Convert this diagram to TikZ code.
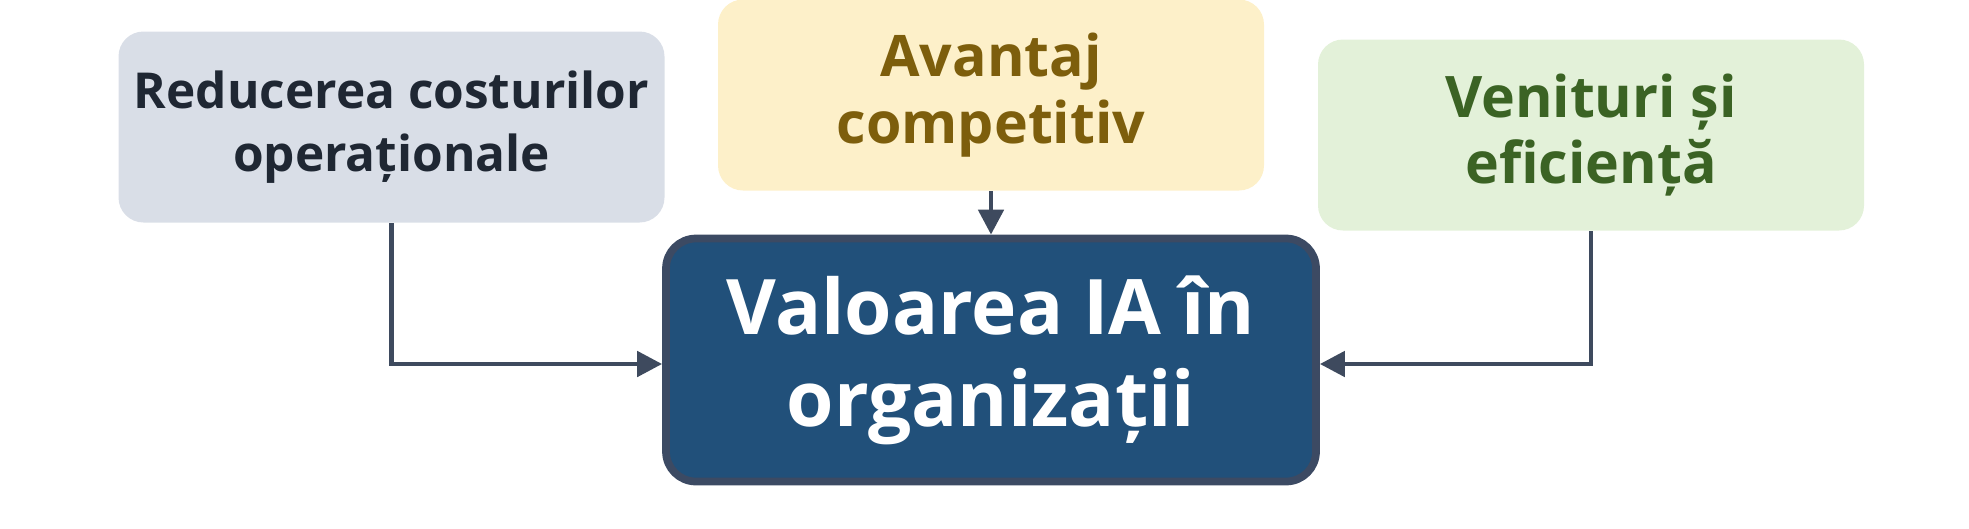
\documentclass[tikz,border=0pt]{standalone}
\usepackage{fontspec}
\setmainfont{Open Sans}
\usetikzlibrary{arrows.meta}
\definecolor{costfill}{HTML}{D9DEE7}
\definecolor{costtext}{HTML}{1F2733}
\definecolor{advfill}{HTML}{FDF0C9}
\definecolor{advtext}{HTML}{7D5E0C}
\definecolor{revfill}{HTML}{E3F1D9}
\definecolor{revtext}{HTML}{3B6324}
\definecolor{valfill}{HTML}{21507A}
\definecolor{valedge}{HTML}{3C4A63}
\definecolor{linkcol}{HTML}{3E4A5E}
\begin{document}
\begin{tikzpicture}[
    goal/.style={rounded corners=0.25cm, minimum width=5.46cm, minimum height=1.91cm,
      align=center, inner sep=0pt, font=\bfseries\fontsize{16.3}{19}\selectfont},
    valuebox/.style={rounded corners=0.3cm, fill=valfill, draw=valedge, line width=2.2pt,
      minimum width=6.5cm, minimum height=2.43cm, align=center, text=white,
      font=\bfseries\fontsize{21.8}{26.2}\selectfont},
    link/.style={draw=linkcol, line width=1.4pt, -{Triangle[length=0.25cm, width=0.25cm]}}]
  \useasboundingbox (0,0) rectangle (19.69,-5.28);

  \node[goal, fill=costfill, text=costtext, font=\bfseries\fontsize{14.1}{18}\selectfont]
    (cost) at (3.915,-1.27) {Reducerea costurilor\\operaționale};
  \node[goal, fill=advfill, text=advtext] (adv) at (9.91,-0.95) {Avantaj\\competitiv};
  \node[goal, fill=revfill, text=revtext] (rev) at (15.91,-1.35) {Venituri și\\eficiență};

  \node[valuebox] (value) at (9.91,-3.60) {Valoarea IA în\\organizații};

  \draw[link] (cost.south) |- ([yshift=-0.04cm]value.west);
  \draw[link] (adv.south) -- (value.north);
  \draw[link] (rev.south) |- ([yshift=-0.04cm]value.east);

\end{tikzpicture}
\end{document}
